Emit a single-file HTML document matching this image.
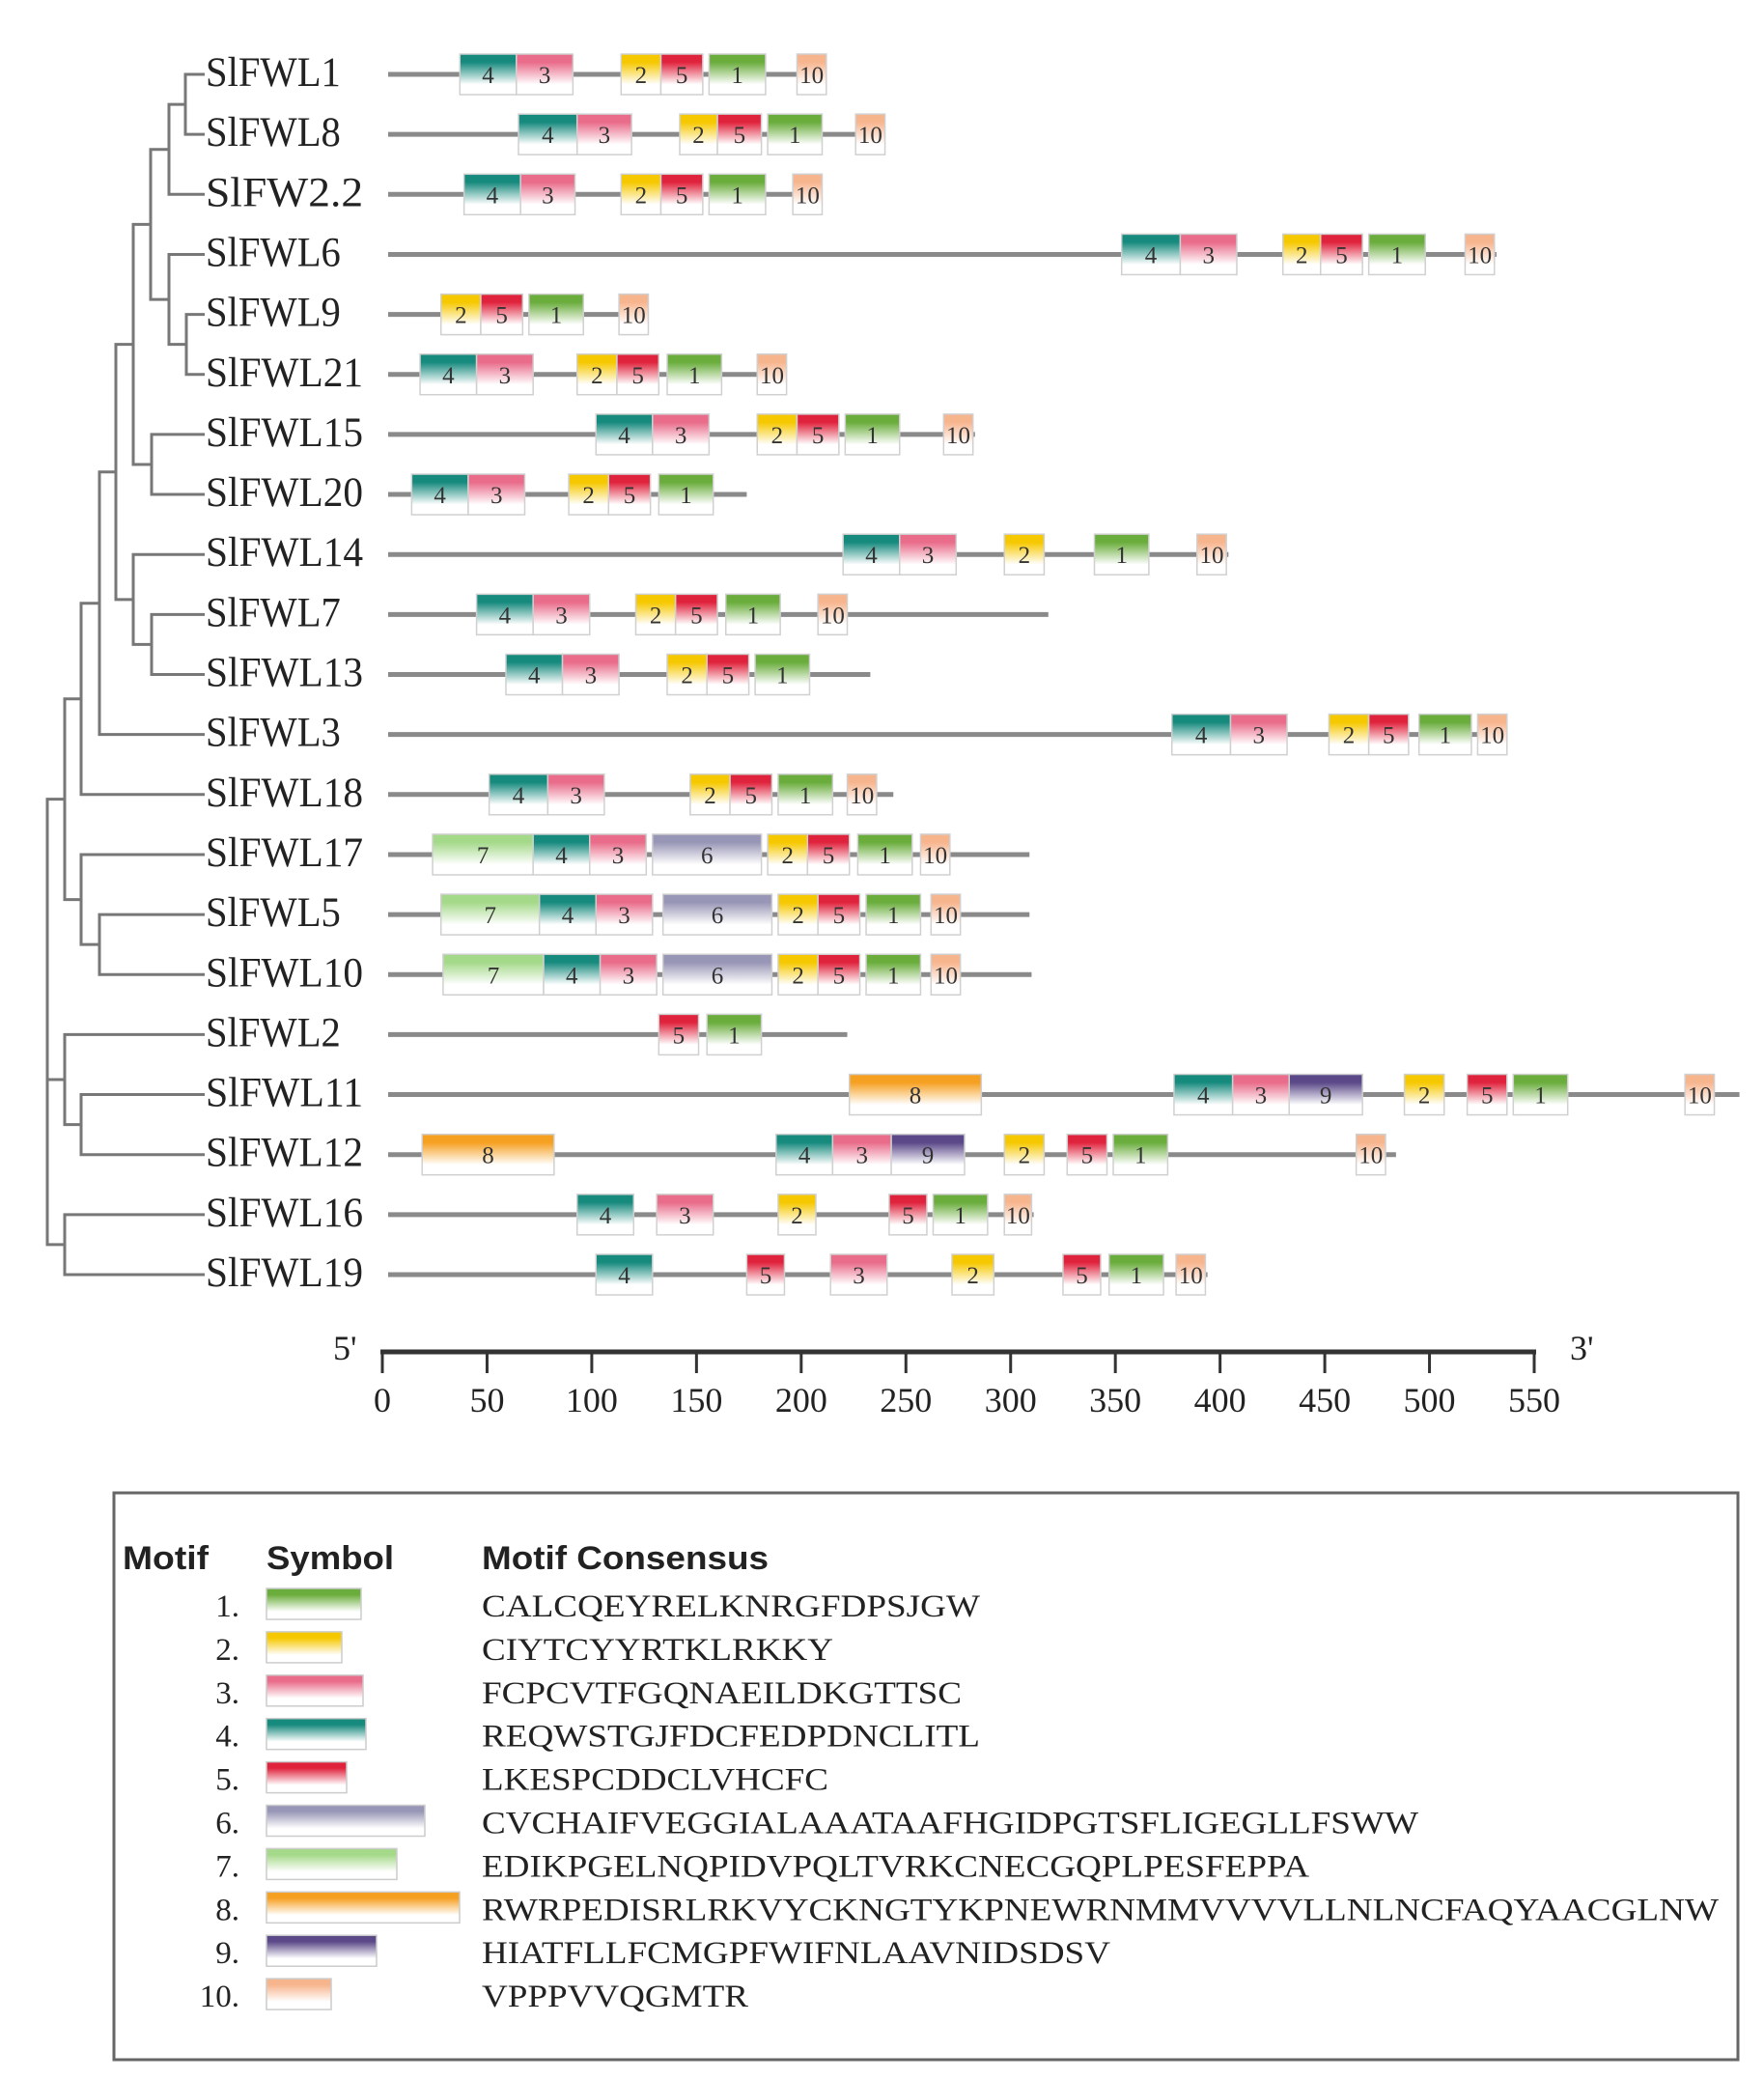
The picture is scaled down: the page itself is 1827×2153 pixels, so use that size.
<!DOCTYPE html>
<html><head><meta charset="utf-8"><style>
html,body{margin:0;padding:0;background:#fff;}
svg{display:block;}
</style></head><body>
<svg id="chart" width="1827" height="2153" viewBox="0 0 1827 2153" xmlns="http://www.w3.org/2000/svg">
<defs id="defs"></defs>
<g id="tree"></g>
<g id="genes"></g>
<g id="axis"></g>
<g id="legend"></g>
</svg>
<script>
const genes = ["SlFWL1","SlFWL8","SlFW2.2","SlFWL6","SlFWL9","SlFWL21","SlFWL15","SlFWL20","SlFWL14","SlFWL7","SlFWL13","SlFWL3","SlFWL18","SlFWL17","SlFWL5","SlFWL10","SlFWL2","SlFWL11","SlFWL12","SlFWL16","SlFWL19"];
const lengths = [212,240,210,532,127,193,283,174,404,318,233,537,244,309,309,310,222,648,484,311,394];
const motifs = [
 [[4,37,64],[3,64,91],[2,114,133],[5,133,153],[1,156,183],[10,198,212]],
 [[4,65,93],[3,93,119],[2,142,160],[5,160,181],[1,184,210],[10,226,240]],
 [[4,39,66],[3,66,92],[2,114,133],[5,133,153],[1,156,183],[10,196,210]],
 [[4,353,381],[3,381,408],[2,430,448],[5,448,468],[1,471,498],[10,517,531]],
 [[2,28,47],[5,47,67],[1,70,96],[10,113,127]],
 [[4,18,45],[3,45,72],[2,93,112],[5,112,132],[1,136,162],[10,179,193]],
 [[4,102,129],[3,129,156],[2,179,198],[5,198,218],[1,221,247],[10,268,282]],
 [[4,14,41],[3,41,68],[2,89,108],[5,108,128],[1,132,158]],
 [[4,220,247],[3,247,274],[2,297,316],[1,340,366],[10,389,403]],
 [[4,45,72],[3,72,99],[2,121,140],[5,140,160],[1,164,190],[10,208,222]],
 [[4,59,86],[3,86,113],[2,136,155],[5,155,175],[1,178,204]],
 [[4,377,405],[3,405,432],[2,452,471],[5,471,490],[1,495,520],[10,523,537]],
 [[4,51,79],[3,79,106],[2,147,166],[5,166,186],[1,189,215],[10,222,236]],
 [[7,24,72],[4,72,99],[3,99,126],[6,129,181],[2,184,203],[5,203,223],[1,227,253],[10,257,271]],
 [[7,28,75],[4,75,102],[3,102,129],[6,134,186],[2,189,208],[5,208,228],[1,231,257],[10,262,276]],
 [[7,29,77],[4,77,104],[3,104,131],[6,134,186],[2,189,208],[5,208,228],[1,231,257],[10,262,276]],
 [[5,132,151],[1,155,181]],
 [[8,223,286],[4,378,406],[3,406,433],[9,433,468],[2,488,507],[5,518,537],[1,540,566],[10,622,636]],
 [[8,19,82],[4,188,215],[3,215,243],[9,243,278],[2,297,316],[5,327,346],[1,349,375],[10,465,479]],
 [[4,93,120],[3,131,158],[2,189,207],[5,242,260],[1,263,289],[10,297,310]],
 [[4,102,129],[5,174,192],[3,214,241],[2,272,292],[5,325,343],[1,347,373],[10,379,393]]
];
const axisTicks = [0,50,100,150,200,250,300,350,400,450,500,550];
const motifIds = [1,2,3,4,5,6,7,8,9,10];
const motifConsensus = ["CALCQEYRELKNRGFDPSJGW","CIYTCYYRTKLRKKY","FCPCVTFGQNAEILDKGTTSC","REQWSTGJFDCFEDPDNCLITL","LKESPCDDCLVHCFC","CVCHAIFVEGGIALAAATAAFHGIDPGTSFLIGEGLLFSWW","EDIKPGELNQPIDVPQLTVRKCNECGQPLPESFEPPA","RWRPEDISRLRKVYCKNGTYKPNEWRNMMVVVVLLNLNCFAQYAACGLNW","HIATFLLFCMGPFWIFNLAAVNIDSDSV","VPPPVVQGMTR"];
const motifColors = ["#6aad3c","#f6c800","#e96c8a","#178a7e","#e0233d","#9896b6","#a5d98a","#f6a021","#5a4888","#f7b58e"];

const NS="http://www.w3.org/2000/svg";
function mk(tag, attrs, parent){const e=document.createElementNS(NS,tag);for(const k in attrs)e.setAttribute(k,attrs[k]);parent.appendChild(e);return e;}
const X0=396, XS=(1589-396)/550;
const xs=u=>X0+u*XS;
const rowY=i=>77+i*62.15;
const defs=document.getElementById('defs');
motifColors.forEach((c,i)=>{
  const g=mk('linearGradient',{id:'g'+(i+1),x1:0,y1:0,x2:0,y2:1},defs);
  mk('stop',{offset:'0',  'stop-color':c},g);
  mk('stop',{offset:'0.2','stop-color':c},g);
  mk('stop',{offset:'0.75','stop-color':'#ffffff'},g);
  mk('stop',{offset:'1','stop-color':'#ffffff'},g);
});
// Tree
const tree=document.getElementById('tree');
const treeNodes=[
 {x:192,c:[0,1]},{x:175,c:['n0',2]},{x:193,c:[4,5]},{x:175,c:[3,'n2']},{x:156,c:['n1','n3']},
 {x:157,c:[6,7]},{x:138,c:['n4','n5']},{x:157,c:[9,10]},{x:138,c:[8,'n7']},{x:120,c:['n6','n8']},
 {x:103,c:['n9',11]},{x:84,c:['n10',12]},{x:103,c:[14,15]},{x:84,c:[13,'n12']},{x:67,c:['n11','n13']},
 {x:84,c:[17,18]},{x:67,c:[16,'n15']},{x:67,c:[19,20]},{x:49,c:['n14','n16','n17']}
];
function ny(ref){ if(typeof ref==='number') return rowY(ref); const n=treeNodes[+ref.slice(1)]; return (ny(n.c[0])+ny(n.c[n.c.length-1]))/2; }
const LEAF_X=212;
treeNodes.forEach((n,i)=>{
  const ys=n.c.map(ny);
  const v=mk('line',{x1:n.x,y1:Math.min(...ys),x2:n.x,y2:Math.max(...ys),stroke:'#777','stroke-width':3},tree);
  
  
  n.c.forEach(ch=>{
    const ex = typeof ch==='number'?LEAF_X:treeNodes[+ch.slice(1)].x;
    const h=mk('line',{x1:n.x-1.5,y1:ny(ch),x2:ex,y2:ny(ch),stroke:'#777','stroke-width':3},tree);
    
    
  });
});
// Genes
const gg=document.getElementById('genes');
genes.forEach((name,i)=>{
  const y=rowY(i);
  const row=mk('g',{},gg);
  
  
  const t=mk('text',{x:213,y:y+12,'font-family':'Liberation Serif, serif','font-size':43,fill:'#222',textLength:name.length*23.3,lengthAdjust:'spacingAndGlyphs'},row);
  t.textContent=name;
  
  
  const ln=mk('line',{x1:xs(0)+6,y1:y,x2:xs(lengths[i]),y2:y,stroke:'#8a8a8a','stroke-width':5},row);
  
  
  motifs[i].forEach(m=>{
    const [id,s,e]=m;
    const x1=xs(s), w=xs(e)-x1;
    const r=mk('rect',{x:x1,y:y-21,width:w,height:42,fill:'url(#g'+id+')',stroke:'#d0d0d0','stroke-width':1.5},row);
    
    
    const lt=mk('text',{x:x1+w/2,y:y+9,'text-anchor':'middle','font-family':'Liberation Serif, serif','font-size':25,fill:'#333'},row);
    lt.textContent=id;
    
    
  });
});
// Axis
const ax=document.getElementById('axis');
mk('line',{x1:xs(0)-2,y1:1400,x2:xs(550)+2,y2:1400,stroke:'#333','stroke-width':5},ax);
axisTicks.forEach(v=>{
  const tk=mk('line',{x1:xs(v),y1:1400,x2:xs(v),y2:1422,stroke:'#333','stroke-width':3},ax);
  
  
  const tl=mk('text',{x:xs(v),y:1462,'text-anchor':'middle','font-family':'Liberation Serif, serif','font-size':36,fill:'#222'},ax);
  tl.textContent=v;
  
  
});
const p5=mk('text',{x:345,y:1408,'font-family':'Liberation Serif, serif','font-size':36,fill:'#222'},ax);
p5.textContent="5'";


const p3=mk('text',{x:1626,y:1408,'font-family':'Liberation Serif, serif','font-size':36,fill:'#222'},ax);
p3.textContent="3'";


// Legend
const lg=document.getElementById('legend');
mk('rect',{x:118,y:1546,width:1682,height:587,fill:'none',stroke:'#666','stroke-width':3},lg);
[["Motif",127,216],["Symbol",276,408],["Motif Consensus",499,796]].forEach(h=>{
  const t=mk('text',{x:h[1],y:1625,'font-family':'Liberation Sans, sans-serif','font-weight':'bold','font-size':34,fill:'#222',textLength:h[2]-h[1],lengthAdjust:'spacingAndGlyphs'},lg);
  t.textContent=h[0];
  
  
});
const symW=[98,78,100,103,83,164,135,200,114,67];
const consEnd=[1015,863,996,1015,858,1469,1356,1780,1150,775];
motifIds.forEach((id,i)=>{
  const y=1662+i*44.9;
  const n=mk('text',{x:248,y:y+12,'text-anchor':'end','font-family':'Liberation Serif, serif','font-size':33,fill:'#222'},lg);
  n.textContent=id+'.';
  
  
  const r=mk('rect',{x:276,y:y-17,width:symW[i],height:32,fill:'url(#g'+id+')',stroke:'#ccc','stroke-width':1.5},lg);
  
  
  const c=mk('text',{x:499,y:y+12,'font-family':'Liberation Serif, serif','font-size':33,fill:'#222',textLength:consEnd[i]-499,lengthAdjust:'spacingAndGlyphs'},lg);
  c.textContent=motifConsensus[i];
  
  
});
</script>
</body></html>
